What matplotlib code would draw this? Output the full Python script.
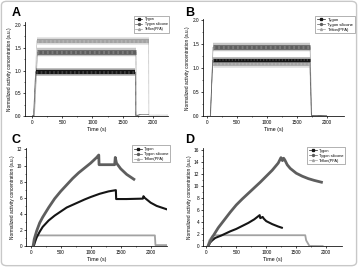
import matplotlib.pyplot as plt
from matplotlib.lines import Line2D
from matplotlib.patches import FancyBboxPatch

plt.rcParams['font.family'] = ['Liberation Sans', 'DejaVu Sans']

series_names = ["Tygon", "Tygon silicone", "Teflon(PFA)"]
series_colors = ["#151515", "#5e5e5e", "#a2a2a2"]
series_markers = ["s", "o", "^"]

# Panel A (step experiment, scatter bands)
a_tygon_t = [0, 25, 60, 1710, 1714, 1780, 1930]
a_tygon_v = [0, 0, 0.97, 0.97, 0.0, 0.03, 0.03]
a_silicone_t = [0, 40, 90, 1720, 1724, 1780]
a_silicone_v = [0, 0, 1.40, 1.40, 0.02, 0.02]
a_teflon_t = [0, 30, 80, 1930, 1934, 2250]
a_teflon_v = [0, 0, 1.65, 1.65, 0.02, 0.02]

# Panel B
b_tygon_t = [0, 55, 95, 1715, 1740, 2000]
b_tygon_v = [0, 0, 1.17, 1.17, 0.02, 0.01]
b_silicone_t = [0, 60, 100, 1718, 1745, 2000]
b_silicone_v = [0, 0, 1.44, 1.44, 0.02, 0.01]
b_teflon_t = [0, 55, 95, 1712, 1738, 2000]
b_teflon_v = [0, 0, 1.09, 1.09, 0.02, 0.01]

# Panel C (continuous curves)
c_tygon_t = [50, 70, 100, 150, 200, 300, 400, 500, 600, 750, 900, 1000, 1150,
             1300, 1420, 1425, 1600, 1870, 1880, 1900, 1950, 2000, 2100, 2200, 2260]
c_tygon_v = [0, 0.5, 1.1, 1.8, 2.4, 3.2, 3.8, 4.3, 4.8, 5.3, 5.8, 6.1, 6.5,
             6.8, 6.95, 5.85, 5.85, 5.9, 6.2, 6.0, 5.7, 5.4, 5.0, 4.75, 4.6]
c_silicone_t = [40, 60, 100, 150, 200, 300, 400, 500, 600, 700, 800, 900, 1000,
                1100, 1135, 1140, 1250, 1400, 1410, 1430, 1500, 1600, 1720]
c_silicone_v = [0, 0.9, 1.9, 2.9, 3.6, 4.8, 5.9, 6.8, 7.6, 8.4, 9.1, 9.7, 10.3,
                11.0, 11.3, 10.1, 10.1, 10.1, 11.0, 10.3, 9.6, 8.9, 8.3]
c_teflon_t = [55, 80, 2070, 2080, 2260]
c_teflon_v = [0, 1.35, 1.35, 0.15, 0.15]

# Panel D
d_tygon_t = [30, 60, 100, 150, 250, 400, 500, 600, 700, 800, 890, 900, 940, 960,
             1000, 1100, 1200, 1260]
d_tygon_v = [0, 0.6, 1.0, 1.4, 1.8, 2.5, 2.9, 3.4, 3.9, 4.5, 5.2, 4.7, 4.9, 4.6,
             4.2, 3.7, 3.3, 3.1]
d_silicone_t = [30, 60, 100, 200, 300, 400, 500, 600, 750, 900, 1000, 1100, 1200,
                1245, 1270, 1290, 1310, 1350, 1400, 1500, 1600, 1700, 1800, 1920]
d_silicone_v = [0, 0.7, 1.5, 3.1, 4.4, 5.7, 6.9, 7.9, 9.3, 10.7, 11.7, 12.7, 13.9,
                14.8, 14.3, 14.7, 14.4, 13.6, 13.0, 12.2, 11.7, 11.3, 11.0, 10.7]
d_teflon_t = [20, 50, 100, 130, 1650, 1665, 1720, 1940]
d_teflon_v = [0, 1.0, 1.7, 1.85, 1.85, 1.0, 0.05, 0.03]


def draw_bands(ax, t, v, color, lw):
    # thin dotted line for the transitions, fuzzy band where the level is flat
    ax.plot(t, v, color=color, lw=0.5, ls=(0, (1.0, 0.6)), zorder=2)
    for i in range(len(t) - 1):
        if v[i] == v[i + 1] and v[i] > 0.5:
            seg_t, seg_v = t[i:i + 2], v[i:i + 2]
            ax.plot(seg_t, seg_v, color=color, lw=lw * 1.35, alpha=0.35,
                    solid_capstyle='butt', zorder=3)
            ax.plot(seg_t, seg_v, color=color, lw=lw * 0.75,
                    solid_capstyle='butt', zorder=3)
            ax.plot(seg_t, seg_v, color='white', lw=lw * 0.5, alpha=0.18,
                    ls=(0, (0.6, 0.9)), zorder=3)


def style_axes(ax, xlim, ylim, yticks, ymajor_fmt, legend_anchor, legend_fs):
    ax.set_xlim(*xlim)
    ax.set_ylim(*ylim)
    ax.set_xticks([0, 500, 1000, 1500, 2000])
    ax.set_xticks([250, 750, 1250, 1750], minor=True)
    ax.set_yticks(yticks)
    step = yticks[1] - yticks[0]
    ax.set_yticks([y + step / 2 for y in yticks[:-1]], minor=True)
    ax.set_yticklabels([ymajor_fmt.format(y) for y in yticks])
    for s in ['top', 'right']:
        ax.spines[s].set_visible(False)
    for s in ['left', 'bottom']:
        ax.spines[s].set_linewidth(0.55)
    ax.tick_params(which='major', length=1.6, width=0.5, labelsize=3.4, pad=1.2)
    ax.tick_params(which='minor', length=0.9, width=0.4)
    ax.set_xlabel("Time (s)", fontsize=3.8, labelpad=1.3)
    ax.set_ylabel("Normalized activity concentration (a.u.)", fontsize=3.4, labelpad=1.3)
    handles = [Line2D([0], [0], color=c, lw=0.5, marker=m, markersize=1.4)
               for c, m in zip(series_colors, series_markers)]
    leg = ax.legend(handles, series_names, loc='upper right', bbox_to_anchor=legend_anchor,
                    fontsize=legend_fs, frameon=True, fancybox=False, handlelength=2.0,
                    handletextpad=0.6, borderpad=0.4, labelspacing=0.25, borderaxespad=0)
    leg.get_frame().set_edgecolor('#555555')
    leg.get_frame().set_linewidth(0.4)


fig = plt.figure(figsize=(3.58, 2.67), dpi=100)

axA = fig.add_axes([0.0698, 0.5655, 0.3994, 0.3532])
axB = fig.add_axes([0.567, 0.5644, 0.393, 0.3633])
axC = fig.add_axes([0.0726, 0.0775, 0.393, 0.368])
axD = fig.add_axes([0.567, 0.0775, 0.389, 0.368])

# A
draw_bands(axA, a_teflon_t, a_teflon_v, series_colors[2], 4.0)
draw_bands(axA, a_silicone_t, a_silicone_v, series_colors[1], 4.5)
draw_bands(axA, a_tygon_t, a_tygon_v, series_colors[0], 4.0)
style_axes(axA, (-116, 2250), (0, 2.073), [0.0, 0.5, 1.0, 1.5, 2.0], "{:.1f}",
           (1.007, 1.06), 2.6)

# B
draw_bands(axB, b_teflon_t, b_teflon_v, series_colors[2], 3.5)
draw_bands(axB, b_tygon_t, b_tygon_v, series_colors[0], 3.0)
draw_bands(axB, b_silicone_t, b_silicone_v, series_colors[1], 4.5)
style_axes(axB, (-67, 2278), (0, 2.015), [0.0, 0.5, 1.0, 1.5, 2.0], "{:.1f}",
           (1.08, 1.034), 3.0)

# C
axC.plot(c_teflon_t, c_teflon_v, color=series_colors[2], lw=1.3)
axC.plot(c_tygon_t, c_tygon_v, color=series_colors[0], lw=1.5)
axC.plot(c_silicone_t, c_silicone_v, color=series_colors[1], lw=2.0)
style_axes(axC, (-78, 2267), (0, 12.16), [0, 2, 4, 6, 8, 10, 12], "{:d}",
           (1.023, 1.027), 2.8)

# D
axD.plot(d_teflon_t, d_teflon_v, color=series_colors[2], lw=1.3)
axD.plot(d_tygon_t, d_tygon_v, color=series_colors[0], lw=1.5)
axD.plot(d_silicone_t, d_silicone_v, color=series_colors[1], lw=2.0)
style_axes(axD, (-55, 2267), (0, 16.4), [0, 2, 4, 6, 8, 10, 12, 14, 16], "{:d}",
           (1.019, 1.01), 2.8)

# panel letters
for x, y, letter in [(0.033, 0.940, "A"), (0.516, 0.940, "B"),
                     (0.033, 0.464, "C"), (0.516, 0.464, "D")]:
    fig.text(x, y, letter, fontsize=9, fontweight='bold', va='baseline', ha='left')

# light rounded frame around the whole figure
frame = FancyBboxPatch((0.004, 0.005), 0.992, 0.99, boxstyle='round,pad=0,rounding_size=0.015',
                       transform=fig.transFigure, fill=False, ec='#c8c8c8', lw=1.0)
fig.patches.append(frame)

fig.savefig("out.png", dpi=100)
